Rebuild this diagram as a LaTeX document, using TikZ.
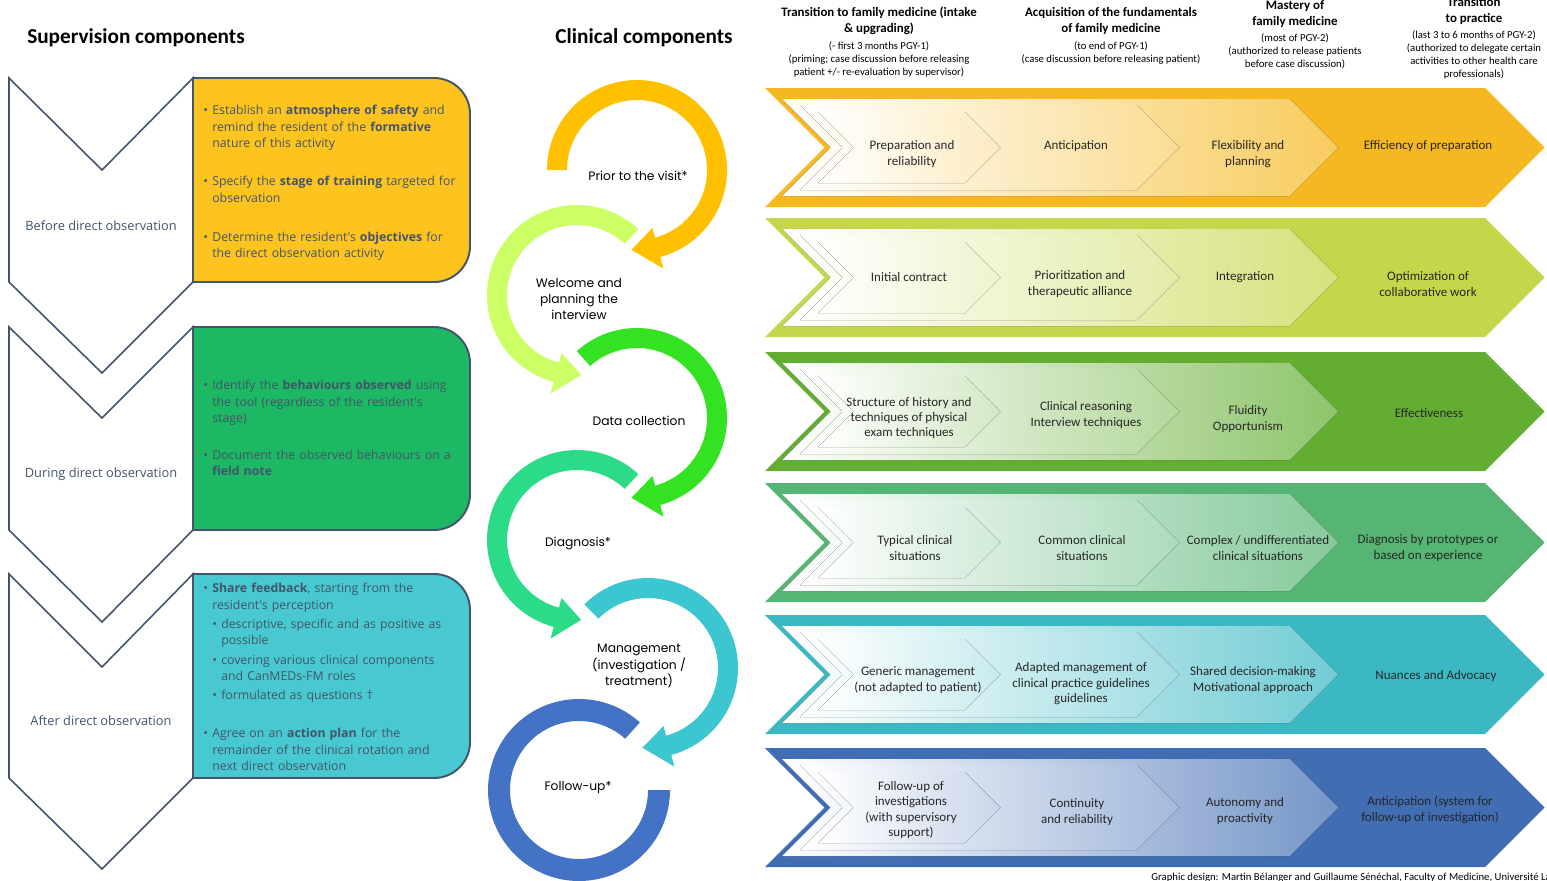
\documentclass[tikz,border=0pt]{standalone}
\usepackage{fontspec}
\setmainfont{Carlito}
\newfontfamily\obsfont{Open Sans}
\newfontfamily\loopfont{Poppins}
\usetikzlibrary{positioning}

\definecolor{slate}{HTML}{44546A}
\definecolor{inkdark}{HTML}{262626}
% supervision boxes
\definecolor{boxgold}{HTML}{FDC31E}
\definecolor{boxgreen}{HTML}{1CB864}
\definecolor{boxcyan}{HTML}{48C8D0}
% clinical loop arrows
\definecolor{loopgold}{HTML}{FFC000}
\definecolor{looplime}{HTML}{CCFF66}
\definecolor{loopgreen}{HTML}{33E322}
\definecolor{loopsea}{HTML}{2CDB88}
\definecolor{loopcyan}{HTML}{3CC6D0}
\definecolor{loopblue}{HTML}{4472C4}
% stage rows
\definecolor{rowgold}{HTML}{F5B820}
\definecolor{rowlime}{HTML}{C6D64A}
\definecolor{rowgreen}{HTML}{63AE32}
\definecolor{rowsea}{HTML}{56B574}
\definecolor{rowteal}{HTML}{3BB8C4}
\definecolor{rowblue}{HTML}{416DB3}

% bullets in the supervision boxes (lines broken with \newline)
\newcommand{\obsitem}[1]{\par\hangindent=5.1pt\hangafter=1\noindent\makebox[5.1pt][l]{\textbullet}#1}
\newcommand{\obssub}[1]{\par\hangindent=10.2pt\hangafter=1\noindent\hspace*{5.1pt}\makebox[5.1pt][l]{\textbullet}#1}

% chevron with 45 degree ends: left x, corner x, top y, bottom y, fill
\newcommand{\chev}[5]{%
  \pgfmathsetmacro{\chevh}{((#4)-(#3))/2}%
  \fill[#5] (#1,{-(#3)}) -- (#2,{-(#3)}) -- ({#2+\chevh},{-(#3)-\chevh}) -- (#2,{-(#4)})
    -- (#1,{-(#4)}) -- ({#1+\chevh},{-(#3)-\chevh}) -- cycle;}
% one row of stages: top y, colour
\newcommand{\stagerow}[2]{%
  \chev{765}{1485}{#1}{#1+119}{#2}
  \chev{782}{1290}{#1+11}{#1+108}{left color=white, right color=#2!72}
  \chev{800}{1137}{#1+17}{#1+102}{left color=white, right color=#2!48}
  \chev{818}{965}{#1+24}{#1+95}{left color=white, right color=#2!28}}

\begin{document}
\begin{tikzpicture}[x=0.02cm, y=0.02cm,
    title/.style={font=\fontsize{12.1}{14}\selectfont\bfseries},
    colhead/.style={font=\fontsize{7.35}{9}\selectfont\bfseries, align=center, inner sep=0pt},
    colsub/.style={font=\fontsize{6.1}{7.4}\selectfont, align=center, inner sep=0pt},
    phase/.style={draw=slate, line width=0.9pt, fill=white},
    phaselabel/.style={font=\obsfont\fontsize{7.3}{9}\selectfont, text=slate},
    obsbox/.style={draw=slate, line width=1.1pt},
    obstext/.style={font=\obsfont\fontsize{7}{9.35}\selectfont, text=slate, text width=5.4cm,
      align=left, inner sep=0pt, anchor=north west},
    loop/.style={font=\loopfont\fontsize{7}{9.3}\selectfont, align=center},
    stage/.style={font=\fontsize{7.4}{8.8}\selectfont, align=center, text=inkdark, inner sep=0pt},
    credit/.style={font=\fontsize{6.1}{7}\selectfont, anchor=west, inner sep=0pt}]
  \useasboundingbox (0,0) rectangle (1547,-880);

  % headings
  \node[title] (supervision) at (136,-38) {Supervision components};
  \node[title] (clinical) at (644,-38) {Clinical components};

  % supervision phases
  \draw[phase] (9,-78) -- (102,-170) -- (193,-78) -- (193,-282) -- (102,-373) -- (9,-282) -- cycle;
  \draw[phase] (9,-327) -- (102,-418) -- (193,-327) -- (193,-530) -- (102,-622) -- (9,-530) -- cycle;
  \draw[phase] (9,-574) -- (102,-667) -- (193,-574) -- (193,-778) -- (102,-869) -- (9,-778) -- cycle;
  \node[phaselabel] (before) at (101,-226) {Before direct observation};
  \node[phaselabel] (during) at (101,-474) {During direct observation};
  \node[phaselabel] (after) at (101,-721) {After direct observation};

  \draw[obsbox, fill=boxgold] (193,-78) -- (434,-78) arc[start angle=90, end angle=0, radius=36]
    -- (470,-246) arc[start angle=0, end angle=-90, radius=36] -- (193,-282) -- cycle;
  \draw[obsbox, fill=boxgreen] (193,-327) -- (434,-327) arc[start angle=90, end angle=0, radius=36]
    -- (470,-494) arc[start angle=0, end angle=-90, radius=36] -- (193,-530) -- cycle;
  \draw[obsbox, fill=boxcyan] (193,-574) -- (434,-574) arc[start angle=90, end angle=0, radius=36]
    -- (470,-742) arc[start angle=0, end angle=-90, radius=36] -- (193,-778) -- cycle;

  \node[obstext] (beforetasks) at (203,-98) {%
    \obsitem{Establish an \textbf{atmosphere of safety} and\newline remind the resident of the \textbf{formative}\newline nature of this activity}
    \par\vspace{12.4pt}
    \obsitem{Specify the \textbf{stage of training} targeted for\newline observation}
    \par\vspace{12.8pt}
    \obsitem{Determine the resident's \textbf{objectives} for\newline the direct observation activity}\par};
  \node[obstext] (duringtasks) at (203,-373) {%
    \obsitem{Identify the \textbf{behaviours observed} using\newline the tool (regardless of the resident's\newline stage)}
    \par\vspace{11.6pt}
    \obsitem{Document the observed behaviours on a\newline \textbf{field note}}\par};
  \node[obstext] (aftertasks) at (203,-576) {%
    \obsitem{\textbf{Share feedback}, starting from the\newline resident's perception}
    \par\vspace{1.4pt}
    \obssub{descriptive, specific and as positive as\newline possible}
    \par\vspace{2pt}
    \obssub{covering various clinical components\newline and CanMEDs-FM roles}
    \par\vspace{1.4pt}
    \obssub{formulated as questions †}
    \par\vspace{12.2pt}
    \obsitem{Agree on an \textbf{action plan} for the\newline remainder of the clinical rotation and\newline next direct observation}\par};

  % clinical loop
  \begin{scope}[shift={(637,-170)}]
    \fill[loopgold] (180:90) arc[start angle=180, end angle=-75, radius=90] -- (-75:102) -- (-94:80)
      -- (-75:60) -- (-75:70) arc[start angle=-75, end angle=180, radius=70] -- cycle;
  \end{scope}
  \begin{scope}[shift={(577,-295)}]
    \fill[looplime] (47:90) arc[start angle=47, end angle=255, radius=90] -- (255:102) -- (273:80)
      -- (255:60) -- (255:70) arc[start angle=255, end angle=47, radius=70] -- cycle;
  \end{scope}
  \begin{scope}[shift={(637,-418)}]
    \fill[loopgreen] (132:90) arc[start angle=132, end angle=-75, radius=90] -- (-75:102) -- (-94:80)
      -- (-75:60) -- (-75:70) arc[start angle=-75, end angle=132, radius=70] -- cycle;
  \end{scope}
  \begin{scope}[shift={(577,-540)}]
    \fill[loopsea] (47:90) arc[start angle=47, end angle=255, radius=90] -- (255:102) -- (273:80)
      -- (255:60) -- (255:70) arc[start angle=255, end angle=47, radius=70] -- cycle;
  \end{scope}
  \begin{scope}[shift={(648,-668)}]
    \fill[loopcyan] (135:90) arc[start angle=135, end angle=-75, radius=90] -- (-75:102) -- (-94:80)
      -- (-75:60) -- (-75:70) arc[start angle=-75, end angle=135, radius=70] -- cycle;
  \end{scope}
  \begin{scope}[shift={(579,-790)}]
    \fill[loopblue] (48:91) arc[start angle=48, end angle=360, radius=91]
      -- (360:69) arc[start angle=360, end angle=48, radius=69] -- cycle;
  \end{scope}
  \node[loop] (prior) at (638,-176) {Prior to the visit*};
  \node[loop] (welcome) at (579,-299) {Welcome and\\planning the\\interview};
  \node[loop] (data) at (639,-421) {Data collection};
  \node[loop] (diagnosis) at (578,-543) {Diagnosis*};
  \node[loop] (management) at (639,-666) {Management\\(investigation /\\treatment)};
  \node[loop] (followup) at (578,-788) {Follow-up*};

  % stage headings
  \node[colhead] (transition) at (879,-21) {Transition to family medicine (intake\\\& upgrading)};
  \node[colsub, below=0.13cm of transition] (transitionsub) {(- first 3 months PGY-1)\\(priming; case discussion before releasing\\patient +/- re-evaluation by supervisor)};
  \node[colhead] (acquisition) at (1111,-21) {Acquisition of the fundamentals\\of family medicine};
  \node[colsub, below=0.13cm of acquisition] (acquisitionsub) {(to end of PGY-1)\\(case discussion before releasing patient)};
  \node[colhead] (mastery) at (1295,-14) {Mastery of\\family medicine};
  \node[colsub, below=0.11cm of mastery] (masterysub) {(most of PGY-2)\\(authorized to release patients\\before case discussion)};
  \node[colhead] (practice) at (1474,-11) {Transition\\to practice};
  \node[colsub, below=0.1cm of practice] (practicesub) {(last 3 to 6 months of PGY-2)\\(authorized to delegate certain\\activities to other health care\\professionals)};

  % stage rows
  \stagerow{88}{rowgold}
  \stagerow{218}{rowlime}
  \stagerow{352}{rowgreen}
  \stagerow{483}{rowsea}
  \stagerow{615}{rowteal}
  \stagerow{748}{rowblue}

  \node[stage] (prep) at (912,-154) {Preparation and\\reliability};
  \node[stage] (antic) at (1076,-146) {Anticipation};
  \node[stage] (flex) at (1248,-154) {Flexibility and\\planning};
  \node[stage] (effic) at (1428,-146) {Efficiency of preparation};

  \node[stage] (contract) at (909,-277) {Initial contract};
  \node[stage] (prior) at (1080,-284) {Prioritization and\\therapeutic alliance};
  \node[stage] (integ) at (1245,-277) {Integration};
  \node[stage] (collab) at (1428,-284) {Optimization of\\collaborative work};

  \node[stage] (struct) at (909,-418) {Structure of history and\\techniques of physical\\exam techniques};
  \node[stage] (reason) at (1086,-415) {Clinical reasoning\\Interview techniques};
  \node[stage] (fluid) at (1248,-419) {Fluidity\\Opportunism};
  \node[stage] (effect) at (1429,-413) {Effectiveness};

  \node[stage] (typical) at (915,-548) {Typical clinical\\situations};
  \node[stage] (common) at (1082,-548) {Common clinical\\situations};
  \node[stage] (complex) at (1258,-548) {Complex / undifferentiated\\clinical situations};
  \node[stage] (proto) at (1428,-548) {Diagnosis by prototypes or\\based on experience};

  \node[stage] (generic) at (918,-680) {Generic management\\(not adapted to patient)};
  \node[stage] (adapted) at (1081,-684) {Adapted management of\\clinical practice guidelines\\guidelines};
  \node[stage] (shared) at (1253,-680) {Shared decision-making\\Motivational approach};
  \node[stage] (advocacy) at (1436,-676) {Nuances and Advocacy};

  \node[stage] (investig) at (911,-810) {Follow-up of\\investigations\\(with supervisory\\support)};
  \node[stage] (contin) at (1077,-812) {Continuity\\and reliability};
  \node[stage] (autonomy) at (1245,-811) {Autonomy and\\proactivity};
  \node[stage] (system) at (1430,-810) {Anticipation (system for\\follow-up of investigation)};

  \node[credit] (design) at (1151,-878) {Graphic design: Martin Bélanger and Guillaume Sénéchal, Faculty of Medicine, Université Laval};
\end{tikzpicture}
\end{document}
